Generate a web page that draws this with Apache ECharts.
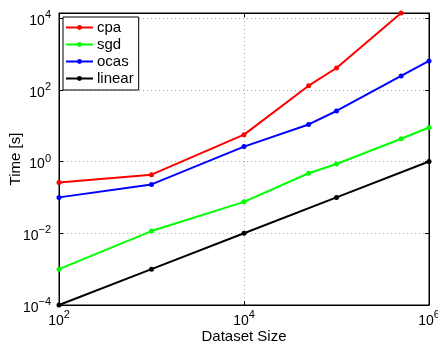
<!DOCTYPE html>
<html>
<head>
<meta charset="utf-8">
<script src="https://cdn.jsdelivr.net/npm/echarts@6/dist/echarts.min.js"></script>
<style>
html,body{margin:0;padding:0;background:#fff;}
#main{width:438px;height:343px;}
</style>
</head>
<body>
<div id="main"></div>
<script>
// dataset sizes (x) and times in seconds per method
var sizes = [100, 1000, 10000, 50000, 100000, 500000, 1000000];
var cpaTimes = [0.26, 0.43, 5.6, 130, 405, 13800, null];
var sgdTimes = [0.001, 0.0115, 0.075, 0.47, 0.85, 4.3, 8.9];
var ocasTimes = [0.1, 0.23, 2.6, 10.8, 25.6, 243, 635];
var linearTimes = [0.0001, 0.001, 0.01, null, 0.1, null, 1];
var names = ['cpa', 'sgd', 'ocas', 'linear'];
var colors = ['#ff0000', '#00ff00', '#0000ff', '#000000'];

function pairs(ys) {
    var out = [];
    for (var i = 0; i < sizes.length; i++) {
        if (ys[i] != null) out.push([sizes[i], ys[i]]);
    }
    return out;
}

// 10^n label with raised exponent
function powLabel(v) {
    var e = Math.log10(v);
    if (Math.abs(e - Math.round(e)) > 1e-6) return '';
    e = Math.round(e);
    return '{b|10}{e|' + (e < 0 ? '\u2212' + (-e) : e) + '}';
}
var richLab = {
    b: {fontSize: 14, fontFamily: 'Liberation Sans', color: '#000', padding: [6, 0, 0, 0]},
    e: {fontSize: 11, fontFamily: 'Liberation Sans', color: '#000', padding: [0, 0, 6, 0]}
};

var myChart = echarts.init(document.getElementById('main'));
var allData = [cpaTimes, sgdTimes, ocasTimes, linearTimes];
var series = [];
for (var k = 0; k < names.length; k++) {
    series.push({
        name: names[k],
        type: 'line',
        data: pairs(allData[k]),
        symbol: 'circle',
        symbolSize: 5,
        color: colors[k],
        lineStyle: {width: 2, color: colors[k]},
        itemStyle: {color: colors[k]},
        animation: false
    });
}

var option = {
    animation: false,
    grid: {left: 59, right: 9, top: 13, bottom: 38, outerBoundsMode: 'none',
        show: true, borderColor: '#000', borderWidth: 1},
    legend: {
        orient: 'vertical',
        left: 63, top: 17,
        data: names,
        backgroundColor: '#fff',
        borderColor: '#000', borderWidth: 1,
        padding: [3, 5, 4, 2],
        itemGap: 2,
        itemWidth: 27, itemHeight: 6,
        textStyle: {fontSize: 15, fontFamily: 'Liberation Sans', color: '#000', padding: [0, 0, 0, -1]}
    },
    xAxis: [{
        type: 'log', min: 100, max: 1000000, interval: 2,
        name: 'Dataset Size', nameLocation: 'middle', nameGap: 24, nameMoveOverlap: false,
        nameTextStyle: {fontSize: 15, fontFamily: 'Liberation Sans', color: '#000'},
        axisLine: {lineStyle: {color: '#000', width: 1}},
        axisTick: {inside: true, length: 4, lineStyle: {color: '#000'}},
        axisLabel: {formatter: powLabel, rich: richLab, margin: 3},
        splitLine: {show: true, lineStyle: {color: '#aaa', type: [1, 3]}}
    }, {
        type: 'log', min: 100, max: 1000000, interval: 2, position: 'top',
        axisLine: {lineStyle: {color: '#000'}},
        axisTick: {inside: true, length: 4, lineStyle: {color: '#000'}},
        axisLabel: {show: false}, splitLine: {show: false}
    }],
    yAxis: [{
        type: 'log', min: 0.0001, max: 13800, interval: 2,
        name: 'Time [s]', nameLocation: 'middle', nameGap: 36, nameMoveOverlap: false,
        nameTextStyle: {fontSize: 15, fontFamily: 'Liberation Sans', color: '#000'},
        axisLine: {lineStyle: {color: '#000', width: 1}},
        axisTick: {inside: true, length: 4, lineStyle: {color: '#000'}},
        axisLabel: {formatter: powLabel, rich: richLab, margin: 8},
        splitLine: {show: true, lineStyle: {color: '#aaa', type: [1, 3]}}
    }, {
        type: 'log', min: 0.0001, max: 13800, interval: 2, position: 'right',
        axisLine: {lineStyle: {color: '#000'}},
        axisTick: {inside: true, length: 4, lineStyle: {color: '#000'}},
        axisLabel: {show: false}, splitLine: {show: false}
    }],
    series: series
};
myChart.setOption(option);
</script>
</body>
</html>
